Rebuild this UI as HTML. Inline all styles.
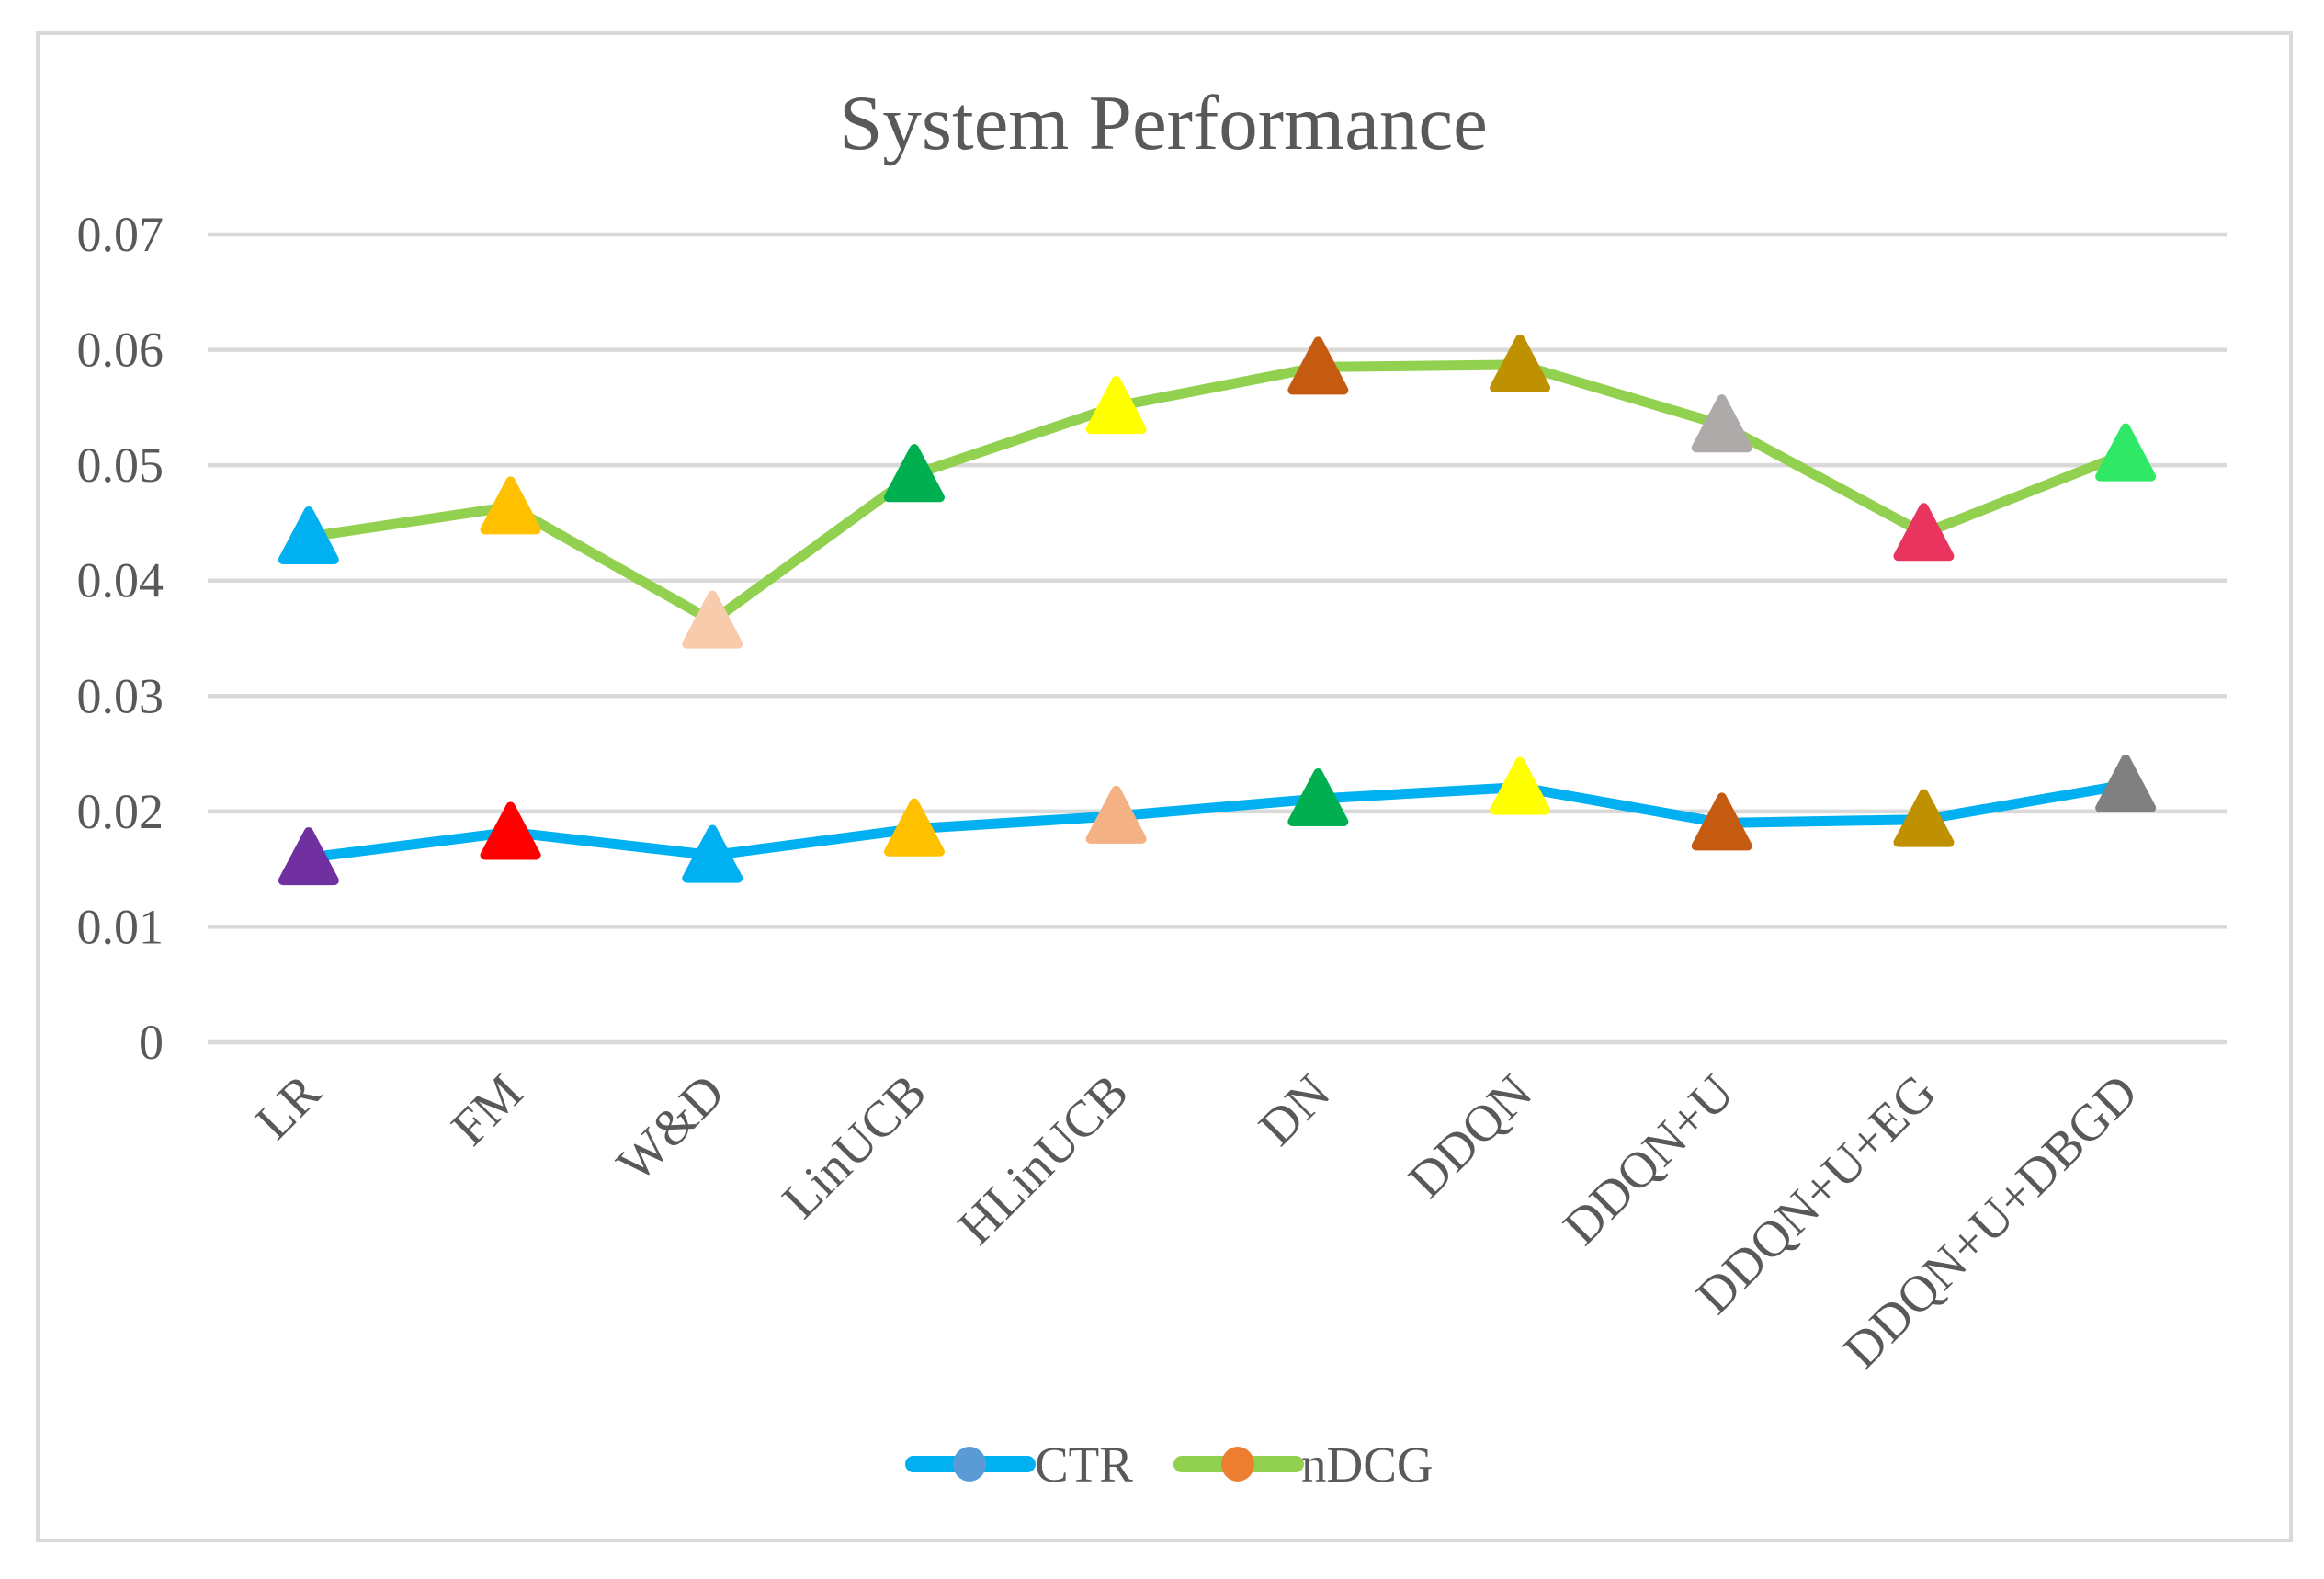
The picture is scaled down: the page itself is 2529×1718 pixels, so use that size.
<!DOCTYPE html>
<html><head><meta charset="utf-8"><style>
html,body{margin:0;padding:0;background:#fff;}
svg{display:block;font-family:"Liberation Serif",serif;}
</style></head><body>
<svg id="chart" width="2529" height="1718" viewBox="0 0 2529 1718" xmlns="http://www.w3.org/2000/svg">
<rect x="41" y="36" width="2452" height="1640" fill="#fff" stroke="#d9d9d9" stroke-width="4"/>
<text x="1266" y="162" text-anchor="middle" font-size="85" fill="#595959">System Performance</text>
<g id="grid"></g><g id="ylabels"></g><g id="xlabels"></g><g id="series"></g>
<g>
<g>
<line x1="994" y1="1593" x2="1118" y2="1593" stroke="#00b0f0" stroke-width="18" stroke-linecap="round"/>
<ellipse cx="1055" cy="1593" rx="18" ry="19" fill="#5b9bd5"/>
<text x="1126" y="1612" font-size="55" fill="#595959">CTR</text>
</g>
<g>
<line x1="1286" y1="1593" x2="1410" y2="1593" stroke="#92d050" stroke-width="18" stroke-linecap="round"/>
<ellipse cx="1347" cy="1593" rx="18" ry="19" fill="#ed7d31"/>
<text x="1416" y="1612" font-size="55" fill="#595959">nDCG</text>
</g>
</g>
</svg>
<script>
const categories = ["LR","FM","W&D","LinUCB","HLinUCB","DN","DDQN","DDQN+U","DDQN+U+EG","DDQN+U+DBGD"];
const ctrValues = [0.0160,0.0182,0.0162,0.0185,0.0196,0.0211,0.0221,0.0190,0.0193,0.0223];
const ndcgValues = [0.0438,0.0464,0.0365,0.0492,0.0551,0.0585,0.0587,0.0535,0.0441,0.0510];
const ctrColors = ["#7030a0","#ff0000","#00b0f0","#ffc000","#f4b183","#00b050","#ffff00","#c55a11","#bf9000","#808080"];
const ndcgColors = ["#00b0f0","#ffc000","#f8cbad","#00b050","#ffff00","#c55a11","#bf9000","#aeaaaa","#e8345e","#2ee866"];
const yTicks = [0,0.01,0.02,0.03,0.04,0.05,0.06,0.07];
const yTickLabels = ["0","0.01","0.02","0.03","0.04","0.05","0.06","0.07"];

const NS="http://www.w3.org/2000/svg";
const X0=226,X1=2423,Y0=1134,Y1=255,YMAX=0.07;
const step=(X1-X0)/categories.length;
const xPos=i=>X0+step*(i+0.5);
const yPos=v=>Y0-(v/YMAX)*(Y0-Y1);
function mk(tag,attrs,parent){const e=document.createElementNS(NS,tag);for(const k in attrs)e.setAttribute(k,attrs[k]);parent.appendChild(e);return e;}
const grid=document.getElementById('grid'),yl=document.getElementById('ylabels'),xl=document.getElementById('xlabels'),ser=document.getElementById('series');
yTicks.forEach((t,i)=>{
  const l=mk('line',{x1:X0,x2:X1,y1:yPos(t),y2:yPos(t),stroke:'#d9d9d9','stroke-width':4.5},grid);
  
  
  const tx=mk('text',{x:178,y:yPos(t)+18,'text-anchor':'end','font-size':54,fill:'#595959'},yl);
  tx.textContent=yTickLabels[i];
  
  
});
categories.forEach((c,i)=>{
  const x=xPos(i)+16,y=1192;
  const tx=mk('text',{x:x,y:y,'text-anchor':'end','font-size':56,fill:'#595959',transform:`rotate(-45 ${x} ${y})`},xl);
  tx.textContent=c;
  
  
});
function drawSeries(vals,color,colors,name){
  const pts=vals.map((v,i)=>xPos(i)+','+yPos(v)).join(' ');
  const pl=mk('polyline',{points:pts,fill:'none',stroke:color,'stroke-width':11,'stroke-linejoin':'round','stroke-linecap':'round'},ser);
  
  
  vals.forEach((v,i)=>{
    const x=xPos(i),y=yPos(v);
    const p=mk('path',{d:`M${x} ${y-28} L${x+28} ${y+25} L${x-28} ${y+25} Z`,fill:colors[i],stroke:colors[i],'stroke-width':10,'stroke-linejoin':'round'},ser);
    
    
  });
}
drawSeries(ndcgValues,'#92d050',ndcgColors,'ndcg');
drawSeries(ctrValues,'#00b0f0',ctrColors,'ctr');
</script>
</body></html>
